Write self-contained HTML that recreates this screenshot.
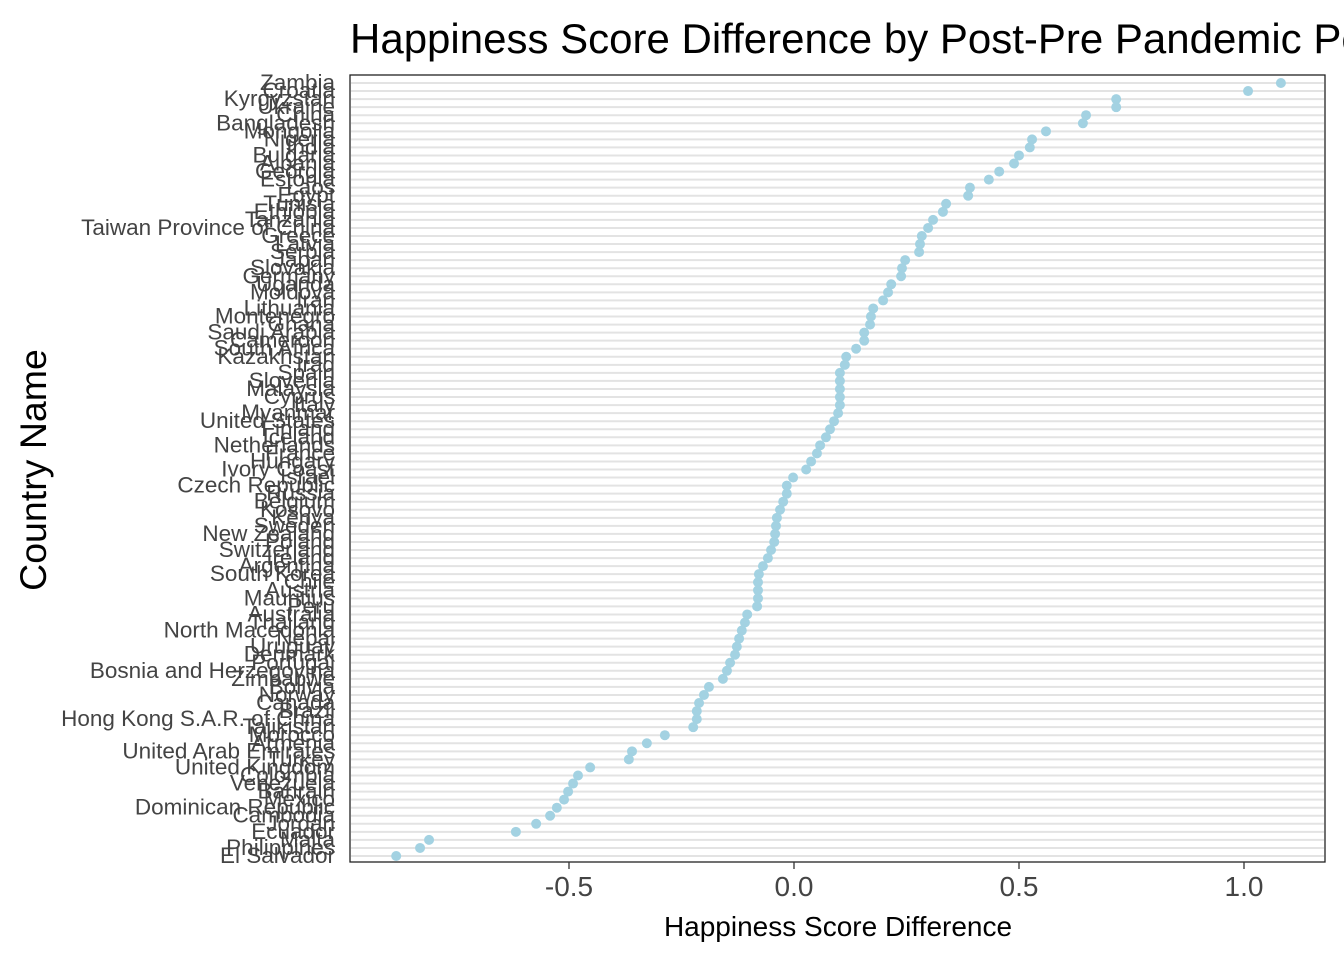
<!DOCTYPE html>
<html><head><meta charset="utf-8"><style>
body{margin:0;background:#fff;overflow:hidden;}
svg text{font-family:"Liberation Sans",Arial,sans-serif;}
</style></head><body>
<svg id="chart" width="1344" height="960" viewBox="0 0 1344 960" xmlns="http://www.w3.org/2000/svg">
<text x="350" y="53" font-size="42" fill="#000">Happiness Score Difference by Post-Pre Pandemic Period</text>
<g id="grid"></g>
<g id="points"></g>
<g id="ylabels"></g>
<rect x="350" y="75" width="975" height="787" fill="none" stroke="#222" stroke-width="1.3"/>
<g id="xaxis"></g>
<text x="838" y="936" font-size="28" text-anchor="middle" fill="#000">Happiness Score Difference</text>
<text transform="translate(46,470) rotate(-90)" font-size="37.5" text-anchor="middle" fill="#000">Country Name</text>
</svg>
<script>
const countries=["Zambia","Croatia","Kyrgyzstan","Ukraine","China","Bangladesh","Mongolia","Nigeria","India","Bulgaria","Albania","Georgia","Estonia","Laos","Egypt","Tunisia","Ethiopia","Tanzania","Taiwan Province of China","Greece","Latvia","Serbia","Japan","Slovakia","Germany","Uganda","Moldova","Iran","Lithuania","Montenegro","Ghana","Saudi Arabia","Cameroon","South Africa","Kazakhstan","Iraq","Spain","Slovenia","Malaysia","Cyprus","Italy","Myanmar","United States","Finland","Iceland","Netherlands","France","Hungary","Ivory Coast","Israel","Czech Republic","Russia","Belgium","Kosovo","Kenya","Sweden","New Zealand","Poland","Switzerland","Ireland","Argentina","South Korea","Chile","Austria","Mauritius","Peru","Australia","Thailand","North Macedonia","Nepal","Uruguay","Denmark","Portugal","Bosnia and Herzegovina","Zimbabwe","Bolivia","Norway","Canada","Brazil","Hong Kong S.A.R. of China","Tajikistan","Morocco","Armenia","United Arab Emirates","Turkey","United Kingdom","Colombia","Venezuela","Bahrain","Mexico","Dominican Republic","Cambodia","Jordan","Ecuador","Malta","Philippines","El Salvador"];
const diffs=[1.082,1.009,0.716,0.716,0.649,0.642,0.56,0.529,0.524,0.5,0.489,0.456,0.433,0.391,0.387,0.338,0.331,0.309,0.298,0.284,0.28,0.278,0.247,0.24,0.238,0.216,0.209,0.198,0.176,0.171,0.169,0.156,0.156,0.138,0.116,0.113,0.102,0.102,0.102,0.102,0.102,0.098,0.089,0.08,0.071,0.058,0.051,0.038,0.027,-0.002,-0.016,-0.016,-0.024,-0.031,-0.038,-0.04,-0.042,-0.044,-0.051,-0.058,-0.069,-0.078,-0.08,-0.08,-0.08,-0.082,-0.104,-0.109,-0.116,-0.122,-0.127,-0.131,-0.142,-0.149,-0.158,-0.189,-0.2,-0.211,-0.216,-0.216,-0.224,-0.287,-0.327,-0.36,-0.367,-0.453,-0.48,-0.491,-0.502,-0.511,-0.527,-0.542,-0.573,-0.618,-0.811,-0.831,-0.884];
const xTicks=[-0.5,0,0.5,1];
const xTickLabels=["-0.5","0.0","0.5","1.0"];
const NS="http://www.w3.org/2000/svg";
function xs(v){return 794+v*450;}
function ys(i){return 83+i*(856-83)/(countries.length-1);}
function mk(tag,attrs,parent){const e=document.createElementNS(NS,tag);for(const k in attrs)e.setAttribute(k,attrs[k]);document.getElementById(parent).appendChild(e);return e;}
countries.forEach((c,i)=>{
  const g=mk('line',{x1:351,x2:1324,y1:ys(i),y2:ys(i),stroke:'#e3e3e3','stroke-width':2},'grid');
  
  
  const t=mk('text',{x:335,y:ys(i)+7,'font-size':22.5,'text-anchor':'end',fill:'#444'},'ylabels');
  t.textContent=c;
  
  
  const p=mk('circle',{cx:xs(diffs[i]),cy:ys(i),r:5,fill:'#a3d2e2'},'points');
  
  
});
xTicks.forEach((v,i)=>{
  const l=mk('line',{x1:xs(v),x2:xs(v),y1:862,y2:869,stroke:'#333','stroke-width':1.3},'xaxis');
  
  
  const t=mk('text',{x:xs(v),y:896,'font-size':28,'text-anchor':'middle',fill:'#444'},'xaxis');
  t.textContent=xTickLabels[i];
  
  
});
</script>
</body></html>
